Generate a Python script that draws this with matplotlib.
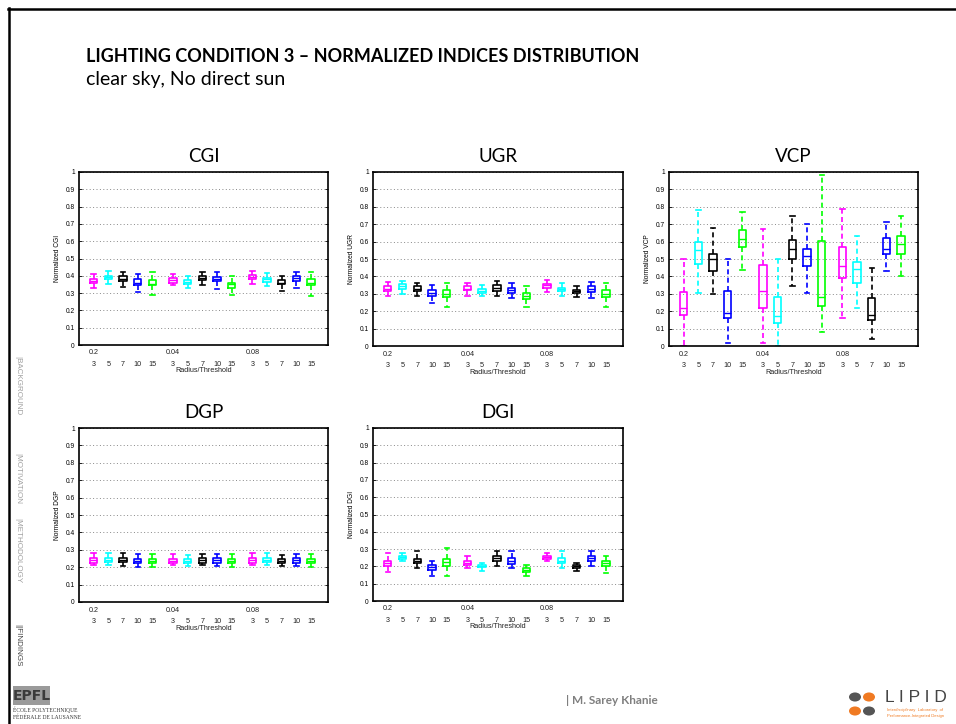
import numpy as np
import matplotlib.pyplot as plt
from matplotlib.patches import Rectangle, Circle
from matplotlib.lines import Line2D

# ---- data ----
radius = ['0.2', '0.04', '0.08']
threshold = ['3', '5', '7', '10', '15']
box_colors = ['#ff00ff', '#00ffff', 'k', '#0000ff', '#00ff00']

cgi_lo  = [0.33, 0.35, 0.335, 0.305, 0.29, 0.345, 0.33, 0.345, 0.325, 0.29, 0.355, 0.34, 0.315, 0.33, 0.285]
cgi_q1  = [0.36, 0.38, 0.37, 0.345, 0.345, 0.36, 0.355, 0.375, 0.37, 0.33, 0.38, 0.365, 0.35, 0.37, 0.345]
cgi_med = [0.37, 0.395, 0.38, 0.36, 0.355, 0.375, 0.365, 0.385, 0.38, 0.35, 0.395, 0.38, 0.36, 0.385, 0.36]
cgi_q3  = [0.38, 0.40, 0.40, 0.38, 0.375, 0.385, 0.375, 0.40, 0.395, 0.36, 0.405, 0.39, 0.375, 0.40, 0.38]
cgi_hi  = [0.41, 0.43, 0.42, 0.41, 0.42, 0.41, 0.40, 0.42, 0.42, 0.40, 0.43, 0.415, 0.40, 0.42, 0.42]

ugr_lo  = [0.287, 0.30, 0.29, 0.25, 0.225, 0.29, 0.285, 0.29, 0.275, 0.225, 0.31, 0.29, 0.28, 0.275, 0.225]
ugr_q1  = [0.315, 0.33, 0.315, 0.29, 0.28, 0.32, 0.305, 0.315, 0.305, 0.27, 0.335, 0.315, 0.304, 0.31, 0.28]
ugr_med = [0.33, 0.342, 0.33, 0.305, 0.30, 0.33, 0.315, 0.335, 0.32, 0.29, 0.348, 0.325, 0.315, 0.325, 0.30]
ugr_q3  = [0.342, 0.354, 0.342, 0.32, 0.32, 0.342, 0.325, 0.348, 0.335, 0.304, 0.358, 0.335, 0.322, 0.342, 0.32]
ugr_hi  = [0.367, 0.373, 0.362, 0.348, 0.362, 0.362, 0.348, 0.373, 0.362, 0.342, 0.377, 0.362, 0.342, 0.367, 0.362]

vcp_lo  = [0.0, 0.305, 0.30, 0.02, 0.435, 0.02, 0.0, 0.343, 0.307, 0.08, 0.16, 0.22, 0.043, 0.432, 0.40]
vcp_q1  = [0.18, 0.47, 0.43, 0.16, 0.568, 0.22, 0.13, 0.50, 0.46, 0.23, 0.39, 0.362, 0.15, 0.53, 0.526]
vcp_med = [0.22, 0.55, 0.50, 0.19, 0.615, 0.318, 0.17, 0.56, 0.52, 0.28, 0.46, 0.445, 0.18, 0.56, 0.584]
vcp_q3  = [0.31, 0.60, 0.53, 0.318, 0.665, 0.465, 0.28, 0.61, 0.56, 0.603, 0.57, 0.48, 0.273, 0.62, 0.63]
vcp_hi  = [0.50, 0.78, 0.68, 0.50, 0.77, 0.67, 0.50, 0.745, 0.703, 0.985, 0.79, 0.632, 0.45, 0.713, 0.75]

dgp_lo  = [0.21, 0.21, 0.207, 0.204, 0.204, 0.21, 0.207, 0.21, 0.207, 0.204, 0.21, 0.21, 0.207, 0.207, 0.204]
dgp_q1  = [0.227, 0.23, 0.229, 0.223, 0.227, 0.227, 0.225, 0.227, 0.227, 0.225, 0.227, 0.229, 0.227, 0.227, 0.225]
dgp_med = [0.242, 0.242, 0.242, 0.238, 0.238, 0.238, 0.237, 0.242, 0.242, 0.237, 0.242, 0.242, 0.238, 0.242, 0.238]
dgp_q3  = [0.253, 0.253, 0.253, 0.248, 0.248, 0.25, 0.246, 0.253, 0.253, 0.246, 0.253, 0.253, 0.248, 0.253, 0.246]
dgp_hi  = [0.28, 0.28, 0.28, 0.273, 0.273, 0.273, 0.27, 0.273, 0.273, 0.273, 0.28, 0.28, 0.27, 0.273, 0.273]

dgi_lo  = [0.17, 0.23, 0.19, 0.143, 0.143, 0.19, 0.173, 0.202, 0.19, 0.143, 0.233, 0.19, 0.173, 0.202, 0.159]
dgi_q1  = [0.204, 0.241, 0.218, 0.178, 0.202, 0.206, 0.194, 0.233, 0.214, 0.169, 0.243, 0.218, 0.19, 0.233, 0.202]
dgi_med = [0.218, 0.253, 0.231, 0.194, 0.225, 0.22, 0.202, 0.247, 0.233, 0.18, 0.253, 0.233, 0.20, 0.249, 0.222]
dgi_q3  = [0.233, 0.26, 0.245, 0.206, 0.245, 0.233, 0.21, 0.26, 0.247, 0.19, 0.263, 0.249, 0.21, 0.26, 0.233]
dgi_hi  = [0.277, 0.277, 0.29, 0.233, 0.308, 0.26, 0.218, 0.29, 0.29, 0.206, 0.277, 0.29, 0.218, 0.29, 0.26]

W, H = 956, 724
fig = plt.figure(figsize=(W / 100, H / 100), dpi=100)
fig.patch.set_facecolor('white')

positions = [g * 5.4 + i for g in range(3) for i in range(5)]
tick_font = 'Liberation Sans'
slide_font = 'Lato'


def px_axes(l, r, t, b):
    return fig.add_axes([l / W, 1 - b / H, (r - l) / W, (b - t) / H])


def draw_panel(box, name, lo, q1, med, q3, hi):
    ax = px_axes(*box)
    stats = []
    for k in range(15):
        stats.append(dict(whislo=lo[k], q1=q1[k], med=med[k], q3=q3[k],
                          whishi=hi[k], fliers=[]))
    parts = ax.bxp(stats, positions=positions, widths=0.5, capwidths=0.3,
                   showfliers=False, manage_ticks=False)
    for k in range(15):
        c = box_colors[k % 5]
        parts['boxes'][k].set(color=c, linewidth=1.2)
        parts['medians'][k].set(color=c, linewidth=1.0)
        for j in (2 * k, 2 * k + 1):
            parts['whiskers'][j].set(color=c, linewidth=1.2, linestyle=(0, (3, 2)))
            parts['caps'][j].set(color=c, linewidth=1.2)
    ax.set_xlim(-1.0, 15.95)
    ax.set_ylim(0, 1)
    ax.set_yticks(np.arange(0, 1.01, 0.1))
    ax.set_yticklabels(['0'] + ['%.1f' % v for v in np.arange(0.1, 0.95, 0.1)] + ['1'],
                       fontsize=4.8, family=tick_font)
    ax.set_xticks([])
    ax.tick_params(axis='y', direction='in', length=2, width=0.6, right=True, pad=3)
    ax.yaxis.grid(True, linestyle=(0, (1, 2.5)), color='#888888', linewidth=0.7)
    ax.set_axisbelow(True)
    for s in ax.spines.values():
        s.set_linewidth(1.2)
    tr = ax.get_xaxis_transform()
    for g in range(3):
        ax.text(positions[g * 5], -0.046, radius[g], transform=tr, ha='center', va='center',
                fontsize=5.2, family=tick_font, color='#222222')
        for i in range(5):
            ax.text(positions[g * 5 + i], -0.11, threshold[i], transform=tr, ha='center',
                    va='center', fontsize=5.2, family=tick_font, color='#222222')
    ax.text(0.5, -0.15, 'Radius/Threshold', transform=ax.transAxes, ha='center', va='center',
            fontsize=5.2, family=tick_font, color='#222222')
    ax.set_ylabel('Normalized ' + name, fontsize=4.8, family=tick_font, labelpad=3)
    ax.set_title(name, fontsize=13.5, family=slide_font, pad=7)
    return ax


draw_panel((79, 328, 172, 345), 'CGI', cgi_lo, cgi_q1, cgi_med, cgi_q3, cgi_hi)
draw_panel((373, 623, 172, 346), 'UGR', ugr_lo, ugr_q1, ugr_med, ugr_q3, ugr_hi)
draw_panel((669, 918, 172, 346), 'VCP', vcp_lo, vcp_q1, vcp_med, vcp_q3, vcp_hi)
draw_panel((79, 328, 428, 602), 'DGP', dgp_lo, dgp_q1, dgp_med, dgp_q3, dgp_hi)
draw_panel((373, 623, 428, 601), 'DGI', dgi_lo, dgi_q1, dgi_med, dgi_q3, dgi_hi)

# ---- slide decorations ----
def fx(x):
    return x / W


def fy(y):
    return 1 - y / H


fig.add_artist(Line2D([fx(9), fx(9)], [fy(8), fy(724)], color='k', linewidth=1.8))
fig.add_artist(Line2D([fx(8), fx(956)], [fy(9), fy(9)], color='k', linewidth=1.8))

fig.text(fx(86), fy(56), 'LIGHTING CONDITION 3 \u2013 NORMALIZED INDICES DISTRIBUTION',
         fontsize=13, weight='bold', family=slide_font, va='center')
fig.text(fx(86), fy(80), 'clear sky, No direct sun', fontsize=14, family=slide_font, va='center')

side = [('|BACKGROUND', 356, '#a0a0a0'), ('|MOTIVATION', 453, '#a0a0a0'),
        ('|METHODOLOGY', 518, '#a0a0a0'), ('||FINDINGS', 624, '#444444')]
for txt, y0, c in side:
    fig.text(fx(18), fy(y0), txt, rotation=-90, fontsize=5.8, family=tick_font,
             color=c, ha='center', va='top')

# EPFL logo
fig.add_artist(Rectangle((fx(13), fy(705)), (50 - 13) / W, 19 / H, facecolor='#9a9a9a',
                         edgecolor='none', transform=fig.transFigure))
fig.text(fx(31.5), fy(695.5), 'EPFL', fontsize=10, color='#3a3a3a', weight='bold',
         family='DejaVu Sans Condensed', ha='center', va='center')
fig.text(fx(13), fy(710), '\u00c9COLE POLYTECHNIQUE', fontsize=4, family='Liberation Serif',
         color='#333333', va='center')
fig.text(fx(13), fy(717), 'F\u00c9D\u00c9RALE DE LAUSANNE', fontsize=4, family='Liberation Serif',
         color='#333333', va='center')

fig.text(fx(566), fy(700), '| M. Sarey Khanie', fontsize=8.5, weight='bold', family=slide_font,
         color='#7f7f7f', va='center')

# LIPID logo
for (cx, cy, col) in [(855, 697, '#555555'), (869, 697, '#f07a22'),
                      (855, 711, '#f07a22'), (869, 711, '#555555')]:
    fig.add_artist(Circle((fx(cx), fy(cy)), 6 / W, facecolor=col, edgecolor='none',
                          transform=fig.transFigure))
fig.text(fx(885), fy(697), 'L I P I D', fontsize=12.5, family=tick_font, color='#444444',
         va='center')
fig.text(fx(887), fy(710), 'Interdisciplinary  Laboratory  of', fontsize=3,
         family=tick_font, color='#f07a22', va='center')
fig.text(fx(887), fy(716), 'Performance-Integrated Design', fontsize=3,
         family=tick_font, color='#f07a22', va='center')

fig.savefig('out.png', dpi=100)
